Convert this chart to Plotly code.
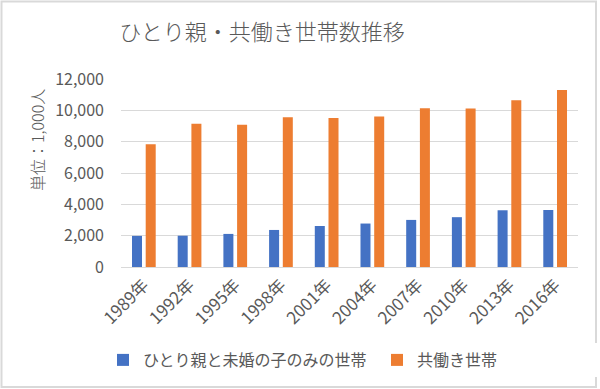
import plotly.graph_objects as go

years = ["1989年", "1992年", "1995年", "1998年", "2001年", "2004年", "2007年", "2010年", "2013年", "2016年"]
single_parent = [1985, 1998, 2112, 2364, 2618, 2774, 3006, 3180, 3621, 3640]
dual_income = [7830, 9140, 9080, 9560, 9510, 9610, 10130, 10120, 10650, 11290]
y_ticks = [0, 2000, 4000, 6000, 8000, 10000, 12000]

FONT = "Noto Sans CJK JP"
GRAY = "#595959"
W, H = 600, 389
ML, MR, MT, MB = 121, 22, 79, 122
PW, PH = W - ML - MR, H - MT - MB

def px_x(px):
    return (px - ML) / PW

def px_y(py):
    return 1 - (py - MT) / PH

fig = go.Figure()
fig.add_trace(go.Bar(x=years, y=single_parent, name="ひとり親と未婚の子のみの世帯",
                     marker=dict(color="#4472C4", line=dict(width=0))))
fig.add_trace(go.Bar(x=years, y=dual_income, name="共働き世帯",
                     marker=dict(color="#ED7D31", line=dict(width=0))))

fig.update_layout(
    width=W, height=H,
    margin=dict(l=ML, r=MR, t=MT, b=MB, autoexpand=False),
    paper_bgcolor="white", plot_bgcolor="white",
    font=dict(family=FONT, color=GRAY, size=14),
    barmode="group", bargap=0.40, bargroupgap=0.27,
    title=dict(text="ひとり親・共働き世帯数推移", x=262 / W, xanchor="center",
               y=1 - 32 / H, yanchor="middle",
               font=dict(family=FONT, size=22, color=GRAY, weight=300)),
    xaxis=dict(tickangle=-45, showgrid=False, showline=False, ticks="", automargin=False,
               ticklabelstandoff=4,
               tickfont=dict(size=17, color=GRAY)),
    yaxis=dict(range=[0, 12000], tickvals=y_ticks, tickformat=",d", automargin=False,
               showgrid=True, gridcolor="#D9D9D9", gridwidth=1, zeroline=True,
               zerolinecolor="#D9D9D9", zerolinewidth=1, showline=False, ticks="",
               ticklabelstandoff=16,
               tickfont=dict(size=16, color=GRAY)),
    legend=dict(orientation="h", x=px_x(103), xanchor="left", y=px_y(360), yanchor="middle",
                font=dict(size=16, color=GRAY), tracegroupgap=0,
                entrywidth=229, entrywidthmode="pixels"),
    showlegend=True,
    annotations=[dict(text="単位：1,000人", textangle=-90, xref="paper", yref="paper",
                      x=px_x(37), y=px_y(140), xanchor="center", yanchor="middle",
                      showarrow=False, font=dict(size=16, color=GRAY, weight=300))],
    shapes=[dict(type="rect", xref="paper", yref="paper",
                 x0=px_x(1.5), x1=px_x(596), y0=px_y(1.5), y1=px_y(387),
                 line=dict(color="#D9D9D9", width=2), fillcolor="rgba(0,0,0,0)", layer="above")],
)

fig.write_html("out.html", config={"displayModeBar": False},
               post_script="document.body.style.margin='0';document.body.style.overflow='hidden';")
